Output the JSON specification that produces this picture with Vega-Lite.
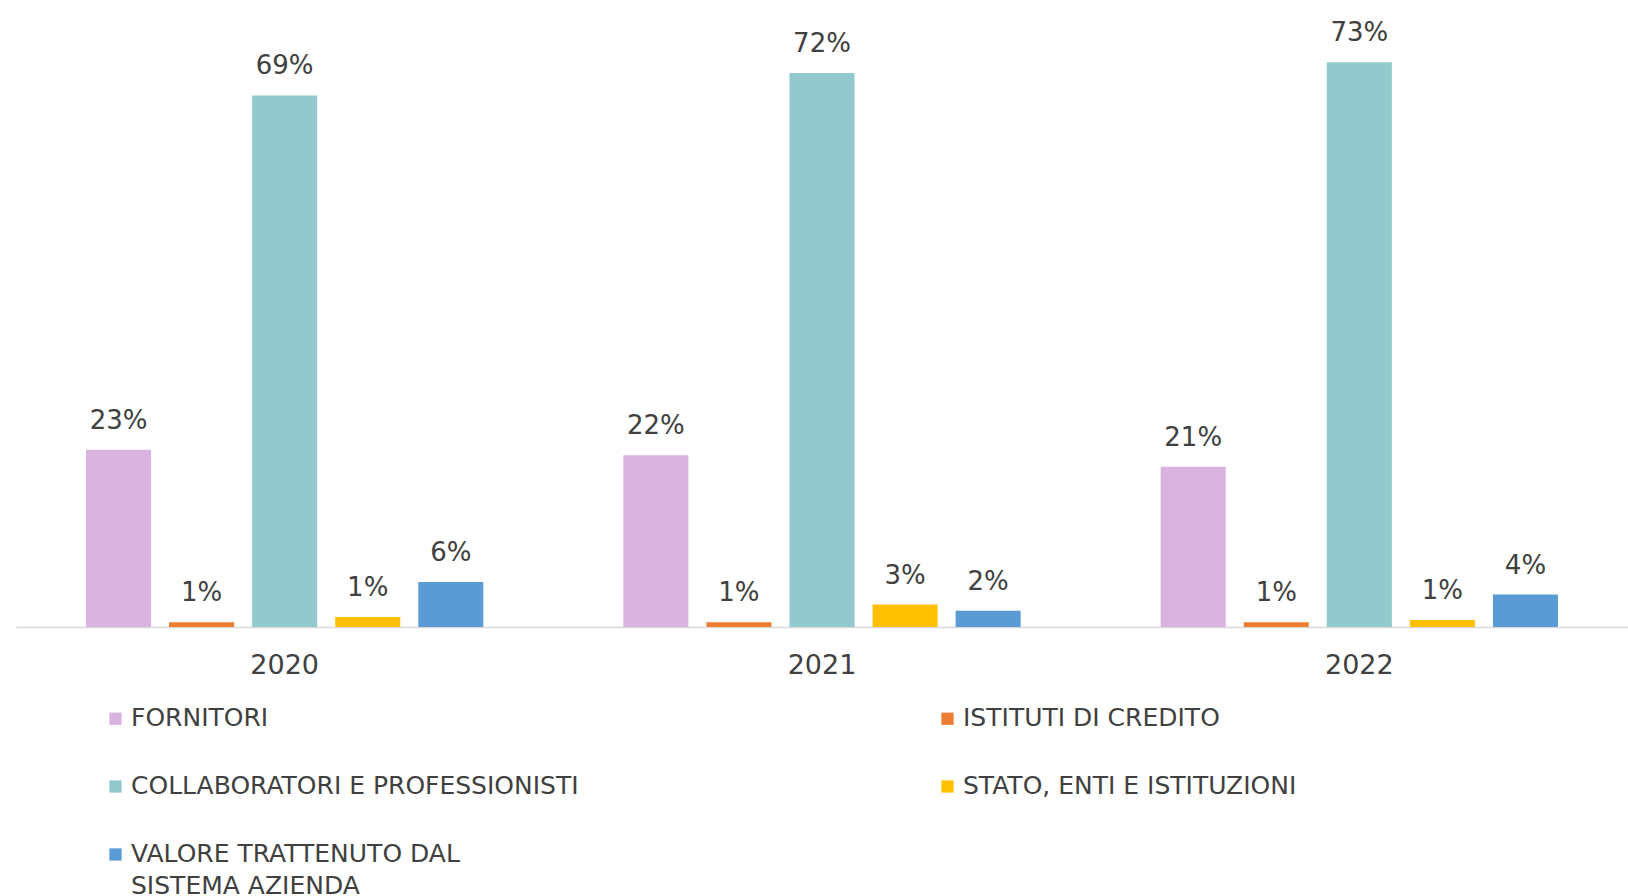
{
  "$schema": "https://vega.github.io/schema/vega-lite/v6.json",
  "width": 1612,
  "height": 619,
  "autosize": {"type": "none"},
  "padding": {"left": 16, "top": 8, "right": 0, "bottom": 269},
  "background": "white",
  "config": {"view": {"stroke": null}, "font": "DejaVu Sans"},
  "data": {
    "values": [
      {"anno": "2020", "categoria": "FORNITORI", "valore": 0.229},
      {"anno": "2020", "categoria": "ISTITUTI DI CREDITO", "valore": 0.006},
      {"anno": "2020", "categoria": "COLLABORATORI E PROFESSIONISTI", "valore": 0.687},
      {"anno": "2020", "categoria": "STATO, ENTI E ISTITUZIONI", "valore": 0.013},
      {"anno": "2020", "categoria": "VALORE TRATTENUTO DAL SISTEMA AZIENDA", "valore": 0.058},
      {"anno": "2021", "categoria": "FORNITORI", "valore": 0.222},
      {"anno": "2021", "categoria": "ISTITUTI DI CREDITO", "valore": 0.006},
      {"anno": "2021", "categoria": "COLLABORATORI E PROFESSIONISTI", "valore": 0.716},
      {"anno": "2021", "categoria": "STATO, ENTI E ISTITUZIONI", "valore": 0.029},
      {"anno": "2021", "categoria": "VALORE TRATTENUTO DAL SISTEMA AZIENDA", "valore": 0.021},
      {"anno": "2022", "categoria": "FORNITORI", "valore": 0.207},
      {"anno": "2022", "categoria": "ISTITUTI DI CREDITO", "valore": 0.006},
      {"anno": "2022", "categoria": "COLLABORATORI E PROFESSIONISTI", "valore": 0.73},
      {"anno": "2022", "categoria": "STATO, ENTI E ISTITUZIONI", "valore": 0.009},
      {"anno": "2022", "categoria": "VALORE TRATTENUTO DAL SISTEMA AZIENDA", "valore": 0.042}
    ]
  },
  "encoding": {
    "x": {
      "field": "anno", "type": "nominal",
      "scale": {"paddingInner": 0, "paddingOuter": 0},
      "axis": {"title": null, "labelAngle": 0, "ticks": false, "domainColor": "#D9D9D9", "domainWidth": 1.5, "labelFontSize": 27, "labelColor": "#404040", "labelPadding": 25}
    },
    "xOffset": {
      "field": "categoria", "type": "nominal",
      "sort": ["FORNITORI", "ISTITUTI DI CREDITO", "COLLABORATORI E PROFESSIONISTI", "STATO, ENTI E ISTITUZIONI", "VALORE TRATTENUTO DAL SISTEMA AZIENDA"],
      "scale": {"paddingInner": 0.217, "paddingOuter": 0.843}
    },
    "y": {"field": "valore", "type": "quantitative", "scale": {"domain": [0, 0.8]}, "axis": null}
  },
  "layer": [
    {
      "mark": {"type": "bar"},
      "encoding": {
        "color": {
          "field": "categoria", "type": "nominal",
          "scale": {
            "domain": ["FORNITORI", "ISTITUTI DI CREDITO", "COLLABORATORI E PROFESSIONISTI", "STATO, ENTI E ISTITUZIONI", "VALORE TRATTENUTO DAL SISTEMA AZIENDA"],
            "range": ["#D9B3E0", "#ED7D31", "#92C9CD", "#FFC000", "#5B9BD5"]
          },
          "legend": {
            "orient": "none", "legendX": 87, "legendY": 698, "columns": 2, "direction": "horizontal", "title": null,
            "symbolType": "square", "symbolSize": 150, "symbolStrokeWidth": 0,
            "labelFontSize": 25, "labelColor": "#404040", "labelOffset": 3, "labelBaseline": "top",
            "rowPadding": 42, "columnPadding": 356, "labelLimit": 0,
            "labelExpr": "datum.label == 'VALORE TRATTENUTO DAL SISTEMA AZIENDA' ? ['VALORE TRATTENUTO DAL', 'SISTEMA AZIENDA'] : datum.label",
            "encode": {"labels": {"update": {"dy": {"value": -13}, "lineHeight": {"value": 32}}}}
          }
        }
      }
    },
    {
      "mark": {"type": "text", "dy": -29, "fontSize": 26, "color": "#404040", "baseline": "middle"},
      "encoding": {"text": {"field": "valore", "type": "quantitative", "format": ".0%"}}
    }
  ]
}
